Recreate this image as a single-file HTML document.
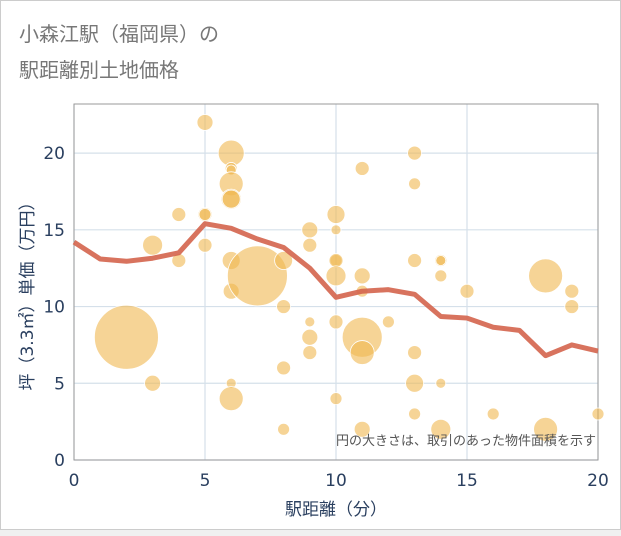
<!DOCTYPE html>
<html><head><meta charset="utf-8"><style>
body{margin:0;background:#f0f0f0;font-family:"Liberation Sans","Noto Sans CJK JP",sans-serif}
#card{position:absolute;left:0;top:0;width:619px;height:528px;background:#fff;border:1px solid #ccc}
</style></head><body>
<div id="card">
<svg id="chart" width="621" height="530">
<text x="18" y="40" font-size="20" fill="#777">小森江駅（福岡県）の</text>
<text x="18" y="76" font-size="20" fill="#777">駅距離別土地価格</text>
</svg></div>
<script>
const bubbleX=[2,3,3,4,4,5,5,5,5,6,6,6,6,6,6,6,6,6,6,7,8,8,8,8,9,9,9,9,9,10,10,10,10,10,10,10,11,11,11,11,11,11,12,13,13,13,13,13,13,14,14,14,14,14,15,16,18,18,19,19,20];
const bubbleY=[8,14,5,16,13,22,16,16,14,20,19,18.9,18,17,17,13,11,5,4,12,13,10,6,2,15,14,9,8,7,16,15,13,13,12,9,4,19,12,11,8,7,2,9,20,18,13,7,5,3,13,13,12,5,2,11,3,12,2,11,10,3];
const bubbleR=[32,10,8,7,7,8,7,6,7,13,6,5,12,10,9,9,8,5,12,30,9,7,7,6,8,7,5,8,7,9,5,6,7,10,7,6,7,8,6,20,12,8,6,7,6,7,7,9,6,6,5,6,5,10,7,6,17,12,7,7,6];
const lineX=[0,1,2,3,4,5,6,7,8,9,10,11,12,13,14,15,16,17,18,19,20];
const lineY=[14.2,13.1,12.95,13.15,13.5,15.4,15.1,14.4,13.85,12.5,10.6,11.0,11.1,10.8,9.35,9.25,8.65,8.45,6.8,7.5,7.1];
const xTicks=[0,5,10,15,20];
const yTicks=[0,5,10,15,20];
const NS="http://www.w3.org/2000/svg";
const svg=document.getElementById('chart');
const L=73,R=597,T=103,B=459,YMAX=23.2;
const FT='"DejaVu Sans","Noto Sans CJK JP",sans-serif';
const sx=v=>L+(R-L)*v/20, sy=v=>B-(B-T)*v/YMAX;
function mk(t,a,p){const e=document.createElementNS(NS,t);for(const k in a)e.setAttribute(k,a[k]);(p||svg).appendChild(e);return e;}
xTicks.forEach(v=>{
 const g=mk('line',{x1:sx(v),x2:sx(v),y1:T,y2:B,stroke:'#d5e0ea','stroke-width':1.2});
 
 
 const t=mk('text',{x:sx(v),y:B+26,'font-size':17,fill:'#2a3f5f','text-anchor':'middle','font-family':FT});t.textContent=v;
 
 
});
yTicks.forEach(v=>{
 const g=mk('line',{x1:L,x2:R,y1:sy(v),y2:sy(v),stroke:'#d5e0ea','stroke-width':1.2});
 
 
 const t=mk('text',{x:L-9,y:sy(v)+6,'font-size':17,fill:'#2a3f5f','text-anchor':'end','font-family':FT});t.textContent=v;
 
 
});
const fr=mk('rect',{x:L,y:T,width:R-L,height:B-T,fill:'none',stroke:'#999','stroke-width':1});


bubbleX.forEach((x,i)=>{
 const c=mk('circle',{cx:sx(x),cy:sy(bubbleY[i]),r:bubbleR[i],fill:'#f0b850','fill-opacity':0.6,stroke:'#fff','stroke-width':0.8});
 
 
});
const pl=mk('polyline',{points:lineX.map((x,i)=>sx(x)+','+sy(lineY[i])).join(' '),fill:'none',stroke:'#d4644c','stroke-width':5,'stroke-opacity':0.9,'stroke-linejoin':'round'});


const note=mk('text',{x:R-2,y:444,'font-size':13,fill:'#555','text-anchor':'end'});note.textContent='円の大きさは、取引のあった物件面積を示す';


const xt=mk('text',{x:(L+R)/2,y:514,'font-size':17,fill:'#2a3f5f','text-anchor':'middle','font-family':FT});xt.textContent='駅距離（分）';


const yt=mk('text',{x:0,y:0,'font-size':17,fill:'#2a3f5f','text-anchor':'middle','font-family':FT,transform:`translate(32,${(T+B)/2+10}) rotate(-90)`});yt.textContent='坪（3.3㎡）単価（万円）';


</script>
</body></html>
